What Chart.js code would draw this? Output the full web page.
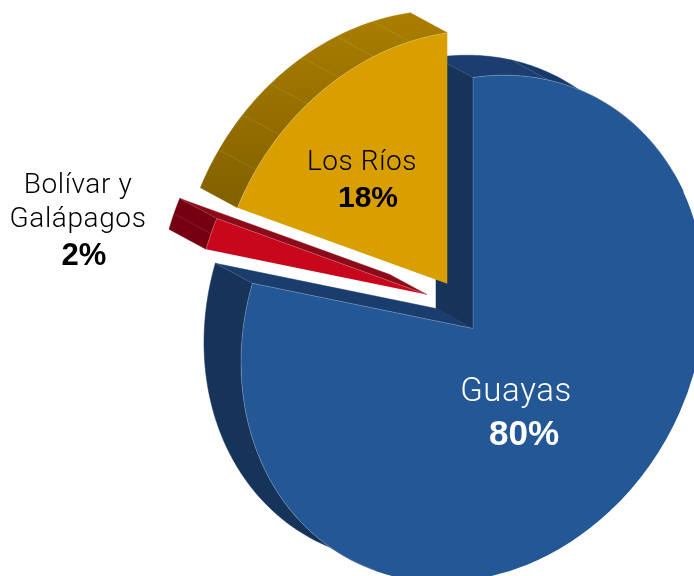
<!DOCTYPE html>
<html>
<head>
<meta charset="utf-8">
<script src="https://cdn.jsdelivr.net/npm/chart.js@4"></script>
<style>
  html, body { margin: 0; padding: 0; background: #fff; overflow: hidden; }
  #wrap { width: 694px; height: 576px; }
</style>
</head>
<body>
<div id="wrap"><canvas id="pie" width="694" height="576"></canvas></div>
<script>
const categories = ['Guayas', 'Bolívar y Galápagos', 'Los Ríos'];
const shares = [80, 2, 18];
const nameLines = [['Guayas'], ['Bolívar y', 'Galápagos'], ['Los Ríos']];

const faceColors = ['#245796', '#c8061c', '#d99e00'];
const textColors = ['#ffffff', '#000000', '#000000'];

// tilted pie: where the pie centre and axes land on the page
const view = { x: 473, y: 328.5, ux: 232, uy: -34, vy: 251 };
const depth = { x: -37, y: -20 };
// how far each slice is pulled out of the pie
const explode = [{ x: 0, y: 0 }, { x: -46.3, y: -34 }, { x: -25.7, y: -44.7 }];
const seam = 'rgba(255,255,255,0.32)';
const DEG = Math.PI / 180;

// label anchors: [centre x, first baseline], line height, percent baseline
const labelSpots = [
    { x: 516, y: 401, size: 33, lh: 0, px: 524, py: 445, psize: 35 },
    { x: 78, y: 193, size: 28, lh: 34, px: 84, py: 265, psize: 31 },
    { x: 362, y: 170, size: 28, lh: 0, px: 368, py: 207, psize: 30 }
];

let m = null;

function project(arc, ang, r) {
    const lx = arc.x + r * Math.cos(ang);
    const ly = arc.y + r * Math.sin(ang);
    return { x: m.a * lx + m.e, y: m.b * lx + m.d * ly + m.f };
}

function poly(ctx, pts, fill) {
    ctx.beginPath();
    pts.forEach((p, i) => i ? ctx.lineTo(p.x, p.y) : ctx.moveTo(p.x, p.y));
    ctx.closePath();
    ctx.fillStyle = fill;
    ctx.fill();
    ctx.strokeStyle = fill;
    ctx.lineWidth = 0.5;
    ctx.stroke();
}

function rim(ctx, arc, a0, a1, fill) {
    const front = [];
    const n = Math.max(2, Math.ceil(Math.abs(a1 - a0) / DEG));
    for (let i = 0; i <= n; i++) front.push(project(arc, a0 + (a1 - a0) * i / n, arc.outerRadius));
    const back = front.map(p => ({ x: p.x + depth.x, y: p.y + depth.y })).reverse();
    poly(ctx, front.concat(back), fill);
}

function radial(ctx, arc, ang, fill) {
    const c = project(arc, 0, 0);
    const p = project(arc, ang, arc.outerRadius);
    poly(ctx, [c, p, { x: p.x + depth.x, y: p.y + depth.y }, { x: c.x + depth.x, y: c.y + depth.y }], fill);
}

function seamLine(ctx, a, b, color) {
    ctx.beginPath();
    ctx.moveTo(a.x, a.y);
    ctx.lineTo(b.x, b.y);
    ctx.strokeStyle = color || seam;
    ctx.lineWidth = 0.7;
    ctx.stroke();
}

function rimSeam(ctx, arc, ang) {
    const p = project(arc, ang, arc.outerRadius);
    seamLine(ctx, p, { x: p.x + depth.x * 0.97, y: p.y + depth.y * 0.97 }, 'rgba(255,255,255,0.16)');
}

function arcSeam(ctx, arc, a0, a1) {
    const n = Math.ceil(Math.abs(a1 - a0) / DEG);
    ctx.beginPath();
    for (let i = 0; i <= n; i++) {
        const p = project(arc, a0 + (a1 - a0) * i / n, arc.outerRadius);
        i ? ctx.lineTo(p.x, p.y) : ctx.moveTo(p.x, p.y);
    }
    ctx.strokeStyle = seam;
    ctx.lineWidth = 0.7;
    ctx.stroke();
}

const pie3d = {
    id: 'pie3d',
    afterDatasetsUpdate(chart) {
        const arcs = chart.getDatasetMeta(0).data;
        const R = arcs[0].outerRadius;
        const cx = arcs[0].x, cy = arcs[0].y;
        const a = view.ux / R, b = view.uy / R, d = view.vy / R;
        m = { a, b, d, e: view.x - a * cx, f: view.y - b * cx - d * cy };
        arcs.forEach((arc, i) => {
            const lx = explode[i].x / a;
            arc.x += lx;
            arc.y += (explode[i].y - b * lx) / d;
        });
    },
    beforeDatasetsDraw(chart) {
        const ctx = chart.ctx;
        const [guayas, bolivar, rios] = chart.getDatasetMeta(0).data;

        // Guayas sides
        rim(ctx, guayas, guayas.startAngle, guayas.startAngle + 19 * DEG, '#1b3d6f');
        rim(ctx, guayas, guayas.startAngle + 19 * DEG, guayas.startAngle + 65 * DEG, '#17386a');
        rim(ctx, guayas, guayas.startAngle + 180 * DEG, guayas.endAngle, '#16335a');
        radial(ctx, guayas, guayas.endAngle, '#1a3d6e');
        radial(ctx, guayas, guayas.startAngle, '#16335a');
        rimSeam(ctx, guayas, guayas.startAngle + 19 * DEG);
        rimSeam(ctx, guayas, guayas.startAngle);
        rimSeam(ctx, guayas, guayas.endAngle);

        // Los Ríos rim, split in even panels
        const top = project(rios, rios.endAngle, rios.outerRadius);
        const low = project(rios, rios.startAngle, rios.outerRadius);
        const grad = ctx.createLinearGradient(0, top.y + depth.y, 0, low.y);
        grad.addColorStop(0, '#aa7e00');
        grad.addColorStop(1, '#826000');
        const panels = 7;
        const step = (rios.endAngle - rios.startAngle) / panels;
        rim(ctx, rios, rios.startAngle, rios.endAngle, grad);
        for (let i = 1; i < panels; i++) rimSeam(ctx, rios, rios.startAngle + i * step);

        // Bolívar sides
        rim(ctx, bolivar, bolivar.startAngle, bolivar.endAngle, '#750011');
        radial(ctx, bolivar, bolivar.endAngle, '#8d0a18');
        rimSeam(ctx, bolivar, (bolivar.startAngle + bolivar.endAngle) / 2);
        rimSeam(ctx, bolivar, bolivar.endAngle);

        ctx.save();
        ctx.transform(m.a, m.b, 0, m.d, m.e, m.f);
    },
    afterDatasetsDraw(chart) {
        const ctx = chart.ctx;
        ctx.restore();
        const [guayas, bolivar, rios] = chart.getDatasetMeta(0).data;

        arcSeam(ctx, guayas, guayas.startAngle, guayas.startAngle + 60 * DEG);
        arcSeam(ctx, guayas, guayas.startAngle + 205 * DEG, guayas.endAngle);
        seamLine(ctx, project(guayas, 0, 0), project(guayas, guayas.endAngle, guayas.outerRadius));
        seamLine(ctx, project(guayas, 0, 0), project(guayas, guayas.startAngle, guayas.outerRadius));
        arcSeam(ctx, rios, rios.startAngle, rios.endAngle);
        arcSeam(ctx, bolivar, bolivar.startAngle, bolivar.endAngle);
        seamLine(ctx, project(bolivar, 0, 0), project(bolivar, bolivar.endAngle, bolivar.outerRadius));

        // labels
        ctx.textAlign = 'center';
        ctx.textBaseline = 'alphabetic';
        categories.forEach((name, i) => {
            const s = labelSpots[i];
            ctx.fillStyle = textColors[i];
            ctx.font = '300 ' + s.size + 'px Roboto, "Liberation Sans", sans-serif';
            ctx.letterSpacing = '0.6px';
            nameLines[i].forEach((line, j) => ctx.fillText(line, s.x, s.y + j * s.lh));
            ctx.letterSpacing = '0px';
            ctx.font = '700 ' + s.psize + 'px "Liberation Sans", Arial, sans-serif';
            ctx.fillText(shares[i] + '%', s.px, s.py);
        });
    }
};

new Chart(document.getElementById('pie').getContext('2d'), {
    type: 'pie',
    data: {
        labels: categories,
        datasets: [{
            data: shares,
            backgroundColor: faceColors,
            borderWidth: 0,
            clip: false
        }]
    },
    options: {
        responsive: false,
        animation: false,
        events: [],
        plugins: { legend: { display: false }, tooltip: { enabled: false } }
    },
    plugins: [pie3d]
});
</script>
</body>
</html>
